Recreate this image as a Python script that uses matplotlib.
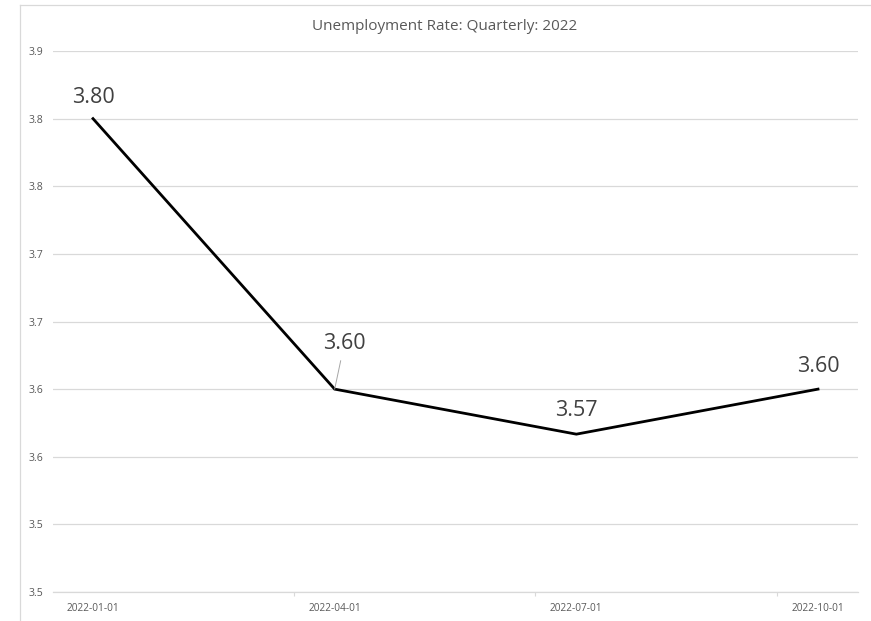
import matplotlib.pyplot as plt
from matplotlib.lines import Line2D

# data
categories = ["2022-01-01", "2022-04-01", "2022-07-01", "2022-10-01"]
values = [3.80, 3.60, 3.5667, 3.60]
y_ticks = [3.45, 3.50, 3.55, 3.60, 3.65, 3.70, 3.75, 3.80, 3.85]
y_tick_labels = ["3.5", "3.5", "3.6", "3.6", "3.7", "3.7", "3.8", "3.8", "3.9"]
title = "Unemployment Rate: Quarterly: 2022"

plt.rcParams['font.family'] = ['Open Sans', 'DejaVu Sans']
grid_c = '#d9d9d9'
text_c = '#595959'

fig = plt.figure(figsize=(8.71, 6.21), dpi=100)
W, H = 871, 621
ax = fig.add_axes([53 / W, 29 / H, (858 - 53) / W, (592 - 51) / H])

x = list(range(len(categories)))
ax.plot(x, values, color='black', lw=2.0, solid_joinstyle='miter', zorder=3)

ax.set_xlim(-0.1655, len(categories) - 1 + 0.1655)
ax.set_ylim(y_ticks[0], y_ticks[-1])
ax.set_yticks(y_ticks)
ax.set_yticklabels(y_tick_labels)
ax.set_xticks(x)
ax.set_xticklabels(categories)
ax.set_xticks([i + 0.83 for i in x[:-1]], minor=True)
ax.tick_params(axis='y', length=0, pad=7, labelsize=7.6, labelcolor=text_c)
ax.tick_params(axis='x', which='major', length=0, pad=8, labelsize=7.3, labelcolor=text_c)
ax.tick_params(axis='x', which='minor', length=3, width=0.8, color=grid_c)
ax.grid(axis='y', color=grid_c, lw=0.9)
for s in ['top', 'right', 'left']:
    ax.spines[s].set_visible(False)
ax.spines['bottom'].set_color(grid_c)
ax.spines['bottom'].set_linewidth(0.9)

# data labels (offsets in points)
offsets = [(0, 15), (7, 33), (0, 17), (0, 16)]
for i, (v, off) in enumerate(zip(values, offsets)):
    kw = {}
    if i == 1:
        kw['arrowprops'] = dict(arrowstyle='-', color='#a6a6a6', lw=0.7, shrinkA=3, shrinkB=0)
    ax.annotate(f"{v:.2f}", (i, v), xytext=off, textcoords='offset points',
                ha='center', va='center', fontsize=15.5, color='#404040', **kw)

fig.text(445 / W, 1 - 27 / H, title, ha='center', va='center', fontsize=11, color=text_c)

# outer chart frame (top and left edges visible)
fig.add_artist(Line2D([20 / W, 870 / W], [1 - 5 / H, 1 - 5 / H], color=grid_c, lw=0.9))
fig.add_artist(Line2D([20 / W, 20 / W], [0, 1 - 5 / H], color=grid_c, lw=0.9))

fig.savefig('out.png', dpi=100, facecolor='white')
